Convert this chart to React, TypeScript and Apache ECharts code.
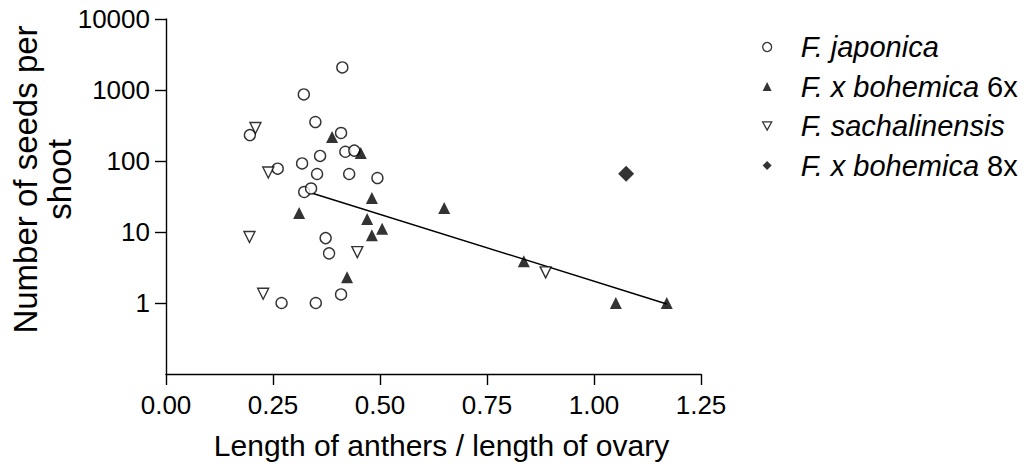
import React, { useEffect, useRef } from "react";
import * as echarts from "echarts";

// Data: [anther/ovary length ratio, seeds per shoot]
const japonica: [number, number][] = [
  [0.412, 2080], [0.322, 867], [0.349, 354], [0.196, 232], [0.409, 248],
  [0.419, 135], [0.44, 140], [0.36, 118], [0.318, 92.5], [0.261, 78],
  [0.353, 65.6], [0.428, 65.6], [0.494, 57.6], [0.323, 36.6], [0.339, 41],
  [0.373, 8.2], [0.381, 5.0], [0.27, 1], [0.35, 1], [0.409, 1.32],
];
const bohemica6x: [number, number][] = [
  [0.388, 218], [0.455, 130], [0.481, 30.1], [0.65, 21.8], [0.311, 18.5],
  [0.47, 15.2], [0.505, 11.1], [0.481, 9.0], [0.423, 2.3], [0.836, 3.86],
  [1.051, 1], [1.17, 1],
];
const sachalinensis: [number, number][] = [
  [0.209, 292], [0.239, 69], [0.195, 8.5], [0.447, 5.2], [0.227, 1.35], [0.887, 2.7],
];
const bohemica8x: [number, number][] = [[1.075, 66]];
const regressionLine: [number, number][] = [[0.34, 35.5], [1.17, 0.97]];

const seriesNames = ["F. japonica", "F. x bohemica 6x", "F. sachalinensis", "F. x bohemica 8x"];
const legendLabels: Record<string, string> = {
  "F. japonica": "{i|F. japonica}",
  "F. x bohemica 6x": "{i|F. x bohemica} 6x",
  "F. sachalinensis": "{i|F. sachalinensis}",
  "F. x bohemica 8x": "{i|F. x bohemica} 8x",
};
const yTickValues = [1, 10, 100, 1000, 10000];
const xAxisName = "Length of anthers / length of ovary";
const yAxisName = "Number of seeds per\nshoot";

const FONT = "'Liberation Sans', Arial, sans-serif";
const DOWN_TRIANGLE = "path://M0,0 L10,0 L5,9 Z";

export default function App() {
  const ref = useRef<HTMLDivElement>(null);
  useEffect(() => {
    document.body.style.margin = "0";
    if (!ref.current) return;
    const chart = echarts.init(ref.current, null, { renderer: "svg" });
    const openStyle = { color: "#fff", borderColor: "#000", borderWidth: 1.4 };
    const fillStyle = { color: "#000", borderColor: "#000", borderWidth: 0 };
    chart.setOption({
      animation: false,
      backgroundColor: "#fff",
      textStyle: { fontFamily: FONT, color: "#000" },
      grid: {
        left: 166,
        right: 334,
        top: 19,
        bottom: 101,
        containLabel: false,
        outerBoundsMode: "none",
      },
      legend: {
        orient: "vertical",
        left: 757,
        top: 27,
        itemWidth: 9,
        itemHeight: 9,
        itemGap: 9.5,
        data: [
          { name: seriesNames[0], icon: "circle", itemStyle: { color: "#fff", borderColor: "#000", borderWidth: 1.3 } },
          { name: seriesNames[1], icon: "triangle", itemStyle: { color: "#000", borderWidth: 0 } },
          { name: seriesNames[2], icon: DOWN_TRIANGLE, itemStyle: { color: "#fff", borderColor: "#000", borderWidth: 1.3 } },
          { name: seriesNames[3], icon: "diamond", itemStyle: { color: "#000", borderWidth: 0 } },
        ],
        formatter: (name: string) => legendLabels[name] || name,
        textStyle: {
          fontFamily: FONT,
          fontSize: 29,
          lineHeight: 30,
          color: "#000",
          padding: [0, 0, 0, 24],
          rich: {
            i: { fontFamily: FONT, fontSize: 29, lineHeight: 30, fontStyle: "italic", color: "#000" },
          },
        },
      },
      xAxis: {
        type: "value",
        min: 0,
        max: 1.25,
        interval: 0.25,
        name: xAxisName,
        nameLocation: "middle",
        nameGap: 56,
        nameMoveOverlap: false,
        nameTextStyle: { fontFamily: FONT, fontSize: 30, color: "#000", padding: [0, 0, 0, 16] },
        axisLine: { show: true, onZero: false, lineStyle: { color: "#000", width: 1.4 } },
        axisTick: { show: true, length: 11, lineStyle: { color: "#000", width: 1.4 } },
        axisLabel: {
          margin: 18,
          fontFamily: FONT,
          fontSize: 26,
          color: "#000",
          formatter: (v: number) => v.toFixed(2),
        },
        splitLine: { show: false },
      },
      yAxis: {
        type: "log",
        logBase: 10,
        min: 0.1,
        max: 10000,
        name: yAxisName,
        nameLocation: "middle",
        nameRotate: 90,
        nameGap: 90,
        nameMoveOverlap: false,
        nameTextStyle: {
          fontFamily: FONT,
          fontSize: 33,
          lineHeight: 34,
          color: "#000",
          padding: [0, 0, 0, 34],
        },
        axisLine: { show: true, onZero: false, lineStyle: { color: "#000", width: 1.4 } },
        axisTick: { show: true, length: 11, customValues: yTickValues, lineStyle: { color: "#000", width: 1.4 } },
        axisLabel: {
          margin: 16,
          fontFamily: FONT,
          fontSize: 26,
          color: "#000",
          customValues: yTickValues,
          formatter: (v: number) => String(Math.round(v)),
        },
        splitLine: { show: false },
      },
      series: [
        {
          name: seriesNames[0],
          type: "scatter",
          symbol: "circle",
          symbolSize: 11,
          itemStyle: openStyle,
          data: japonica,
          z: 3,
        },
        {
          name: seriesNames[1],
          type: "scatter",
          symbol: "triangle",
          symbolSize: 12,
          itemStyle: fillStyle,
          data: bohemica6x,
          z: 3,
        },
        {
          name: seriesNames[2],
          type: "scatter",
          symbol: "triangle",
          symbolRotate: 180,
          symbolSize: 11,
          itemStyle: openStyle,
          data: sachalinensis,
          z: 3,
        },
        {
          name: seriesNames[3],
          type: "scatter",
          symbol: "diamond",
          symbolSize: 16,
          itemStyle: fillStyle,
          data: bohemica8x,
          z: 3,
        },
        {
          name: "Regression",
          type: "line",
          data: regressionLine,
          symbol: "none",
          lineStyle: { color: "#000", width: 1.5 },
          z: 2,
        },
      ],
    });
    return () => chart.dispose();
  }, []);
  return <div ref={ref} style={{ width: 1035, height: 475 }} />;
}
